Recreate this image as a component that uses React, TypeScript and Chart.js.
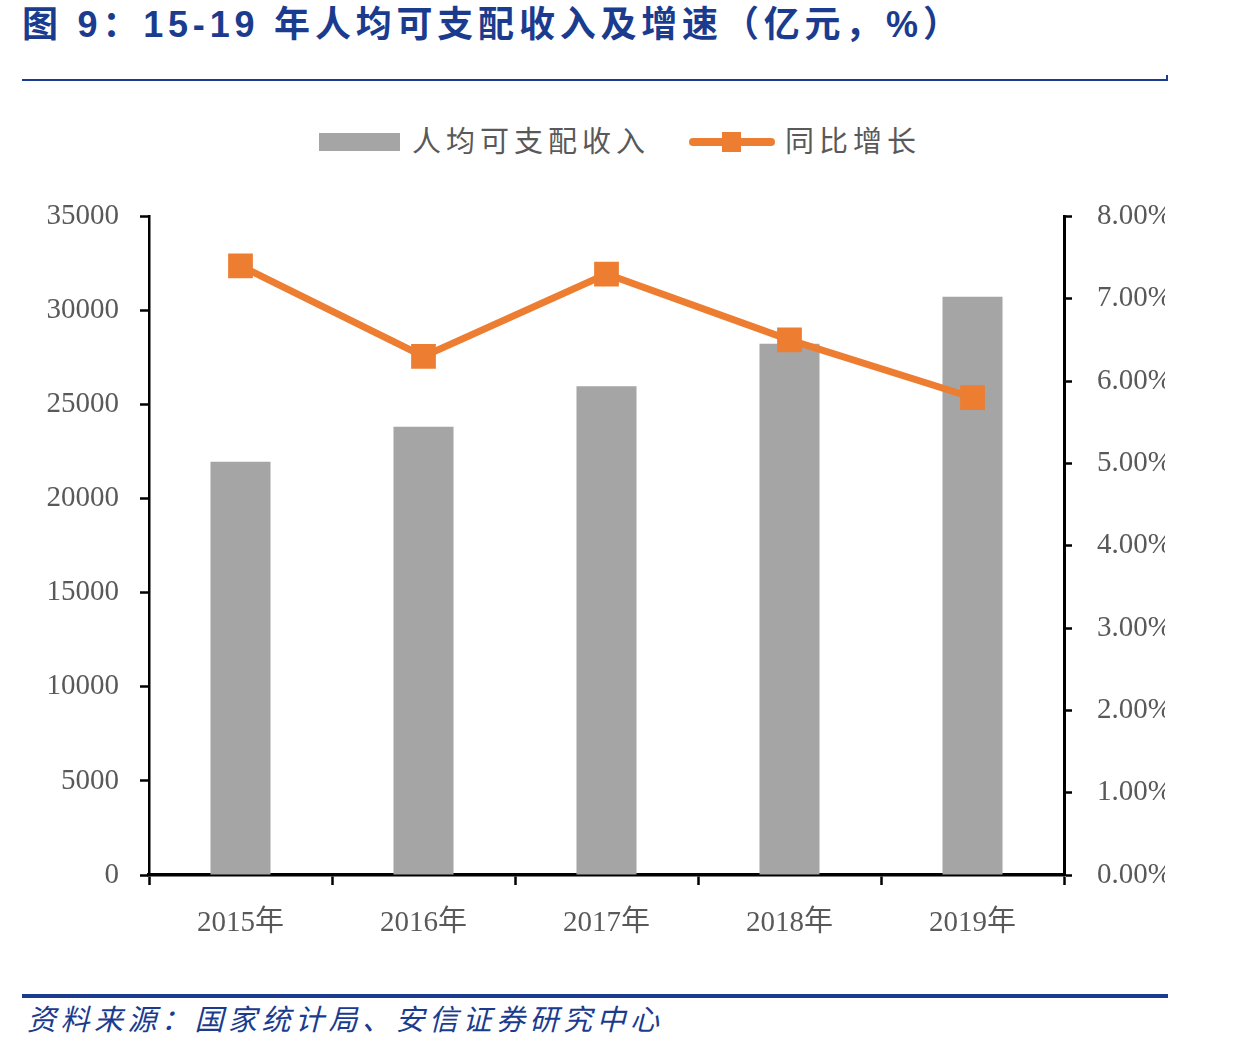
import React, { useEffect, useRef } from "react";
import { Chart, registerables } from "chart.js";

Chart.register(...registerables);

const categories = ["2015年", "2016年", "2017年", "2018年", "2019年"];
const incomeValues = [21966, 23821, 25974, 28228, 30733];
const growthValues = [7.4, 6.3, 7.3, 6.5, 5.8];
const incomeLabel = "人均可支配收入";
const growthLabel = "同比增长";
const titleText = "图 9：15-19 年人均可支配收入及增速（亿元，%）";
const sourceText = "资料来源：国家统计局、安信证券研究中心";

const BLUE = "#1B3C8E";
const GRAY_TEXT = "#595959";
const BAR = "#A5A5A5";
const ORANGE = "#ED7D31";
const TICK_FONT = { family: "'Liberation Serif', 'Noto Sans CJK SC', serif", size: 29 };

export default function App() {
  const canvasRef = useRef<HTMLCanvasElement | null>(null);

  useEffect(() => {
    const canvas = canvasRef.current;
    if (!canvas) return;
    const chart = new Chart(canvas, {
      type: "bar",
      data: {
        labels: categories,
        datasets: [
          {
            type: "line",
            label: growthLabel,
            data: growthValues,
            yAxisID: "y1",
            borderColor: ORANGE,
            backgroundColor: ORANGE,
            borderWidth: 7,
            tension: 0,
            pointStyle: "rect",
            pointRadius: 17.5,
            pointHoverRadius: 17.5,
            pointBorderWidth: 0,
            pointBackgroundColor: ORANGE,
            order: 0,
          },
          {
            type: "bar",
            label: incomeLabel,
            data: incomeValues,
            yAxisID: "y",
            backgroundColor: BAR,
            borderWidth: 0,
            barPercentage: 0.328,
            categoryPercentage: 1,
            order: 1,
          },
        ],
      },
      options: {
        responsive: false,
        animation: false,
        layout: { padding: { top: 28, left: 0, right: 0, bottom: 0 } },
        plugins: {
          legend: { display: false },
          tooltip: { enabled: false },
          title: { display: false },
        },
        scales: {
          x: {
            offset: true,
            grid: {
              offset: true,
              drawOnChartArea: false,
              drawTicks: true,
              tickLength: 10,
              tickWidth: 2.5,
              tickColor: "#000",
            },
            border: { display: true, color: "#000", width: 3.5 },
            ticks: { font: TICK_FONT, color: GRAY_TEXT, padding: 21, maxRotation: 0 },
            afterFit: (s: any) => {
              s.height = 85;
            },
          },
          y: {
            position: "left",
            min: 0,
            max: 35000,
            ticks: {
              stepSize: 5000,
              font: TICK_FONT,
              color: GRAY_TEXT,
              padding: 21,
              callback: (v: any) => String(v),
            },
            grid: {
              drawOnChartArea: false,
              drawTicks: true,
              tickLength: 9,
              tickWidth: 2.5,
              tickColor: "#000",
            },
            border: { display: true, color: "#000", width: 2.5 },
            afterFit: (s: any) => {
              s.width = 149;
            },
          },
          y1: {
            position: "right",
            min: 0,
            max: 8,
            ticks: {
              stepSize: 1,
              font: TICK_FONT,
              color: GRAY_TEXT,
              padding: 25,
              callback: (v: any) => Number(v).toFixed(2) + "%",
            },
            grid: {
              drawOnChartArea: false,
              drawTicks: true,
              tickLength: 8,
              tickWidth: 2.5,
              tickColor: "#000",
            },
            border: { display: true, color: "#000", width: 3 },
            afterFit: (s: any) => {
              s.width = 101;
            },
          },
        },
      },
    });
    return () => chart.destroy();
  }, []);

  const legendText: React.CSSProperties = {
    position: "absolute",
    top: 121,
    fontFamily: "'Noto Sans CJK SC', sans-serif",
    fontSize: 29,
    lineHeight: "36px",
    color: GRAY_TEXT,
    letterSpacing: 5,
    whiteSpace: "nowrap",
  };

  return (
    <div
      style={{
        position: "absolute",
        left: 0,
        top: 0,
        width: 1242,
        height: 1046,
        background: "#fff",
        overflow: "hidden",
      }}
    >
      <div
        style={{
          position: "absolute",
          left: 22,
          top: 2,
          fontFamily: "'Liberation Sans', 'Noto Sans CJK SC', sans-serif",
          fontWeight: 700,
          fontSize: 36,
          lineHeight: "46px",
          color: BLUE,
          whiteSpace: "nowrap",
          letterSpacing: 4.8,
        }}
      >
        {titleText}
      </div>
      <div style={{ position: "absolute", left: 22, top: 79, width: 1146, height: 2, background: BLUE }} />
      <div style={{ position: "absolute", left: 1166, top: 75, width: 2, height: 6, background: BLUE }} />

      <div style={{ position: "absolute", left: 319, top: 133, width: 81, height: 18, background: BAR }} />
      <div style={{ ...legendText, left: 412 }}>{incomeLabel}</div>
      <div
        style={{
          position: "absolute",
          left: 689,
          top: 138,
          width: 86,
          height: 8,
          borderRadius: 4,
          background: ORANGE,
        }}
      />
      <div style={{ position: "absolute", left: 722, top: 132, width: 19, height: 20, background: ORANGE }} />
      <div style={{ ...legendText, left: 785 }}>{growthLabel}</div>

      <canvas
        ref={canvasRef}
        width={1165}
        height={786}
        style={{ position: "absolute", left: 0, top: 174, width: 1165, height: 786 }}
      />

      <div style={{ position: "absolute", left: 22, top: 994, width: 1146, height: 4, background: BLUE }} />
      <div
        style={{
          position: "absolute",
          left: 27,
          top: 999,
          fontFamily: "'Noto Sans CJK SC', sans-serif",
          fontStyle: "italic",
          fontSize: 29,
          lineHeight: "36px",
          color: BLUE,
          letterSpacing: 4.5,
          whiteSpace: "nowrap",
        }}
      >
        {sourceText}
      </div>
    </div>
  );
}
